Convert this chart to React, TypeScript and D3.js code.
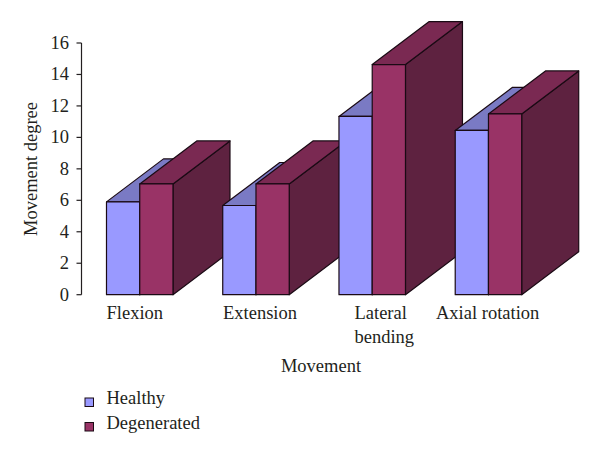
import React from "react";
import * as d3 from "d3";

const categories = ["Flexion", "Extension", "Lateral bending", "Axial rotation"];
const healthy = [5.9, 5.67, 11.33, 10.44];
const degenerated = [7.04, 7.04, 14.63, 11.49];
const yTicks = [0, 2, 4, 6, 8, 10, 12, 14, 16];
const seriesNames = ["Healthy", "Degenerated"];
const fronts = ["#9999FF", "#993366"];
const tops = ["#7A7AC4", "#7A2952"];
const sides = ["#5C5C99", "#5E2240"];

const INK = "#231F20";
const FONT = "'Liberation Serif', serif";
const DX = 57;
const DY = -43;

export default function App() {
  const y = d3.scaleLinear().domain([0, 16]).range([294.7, 43]);
  const x = d3.scaleBand<string>().domain(categories).range([81.5, 546.7]).paddingInner(0.428).paddingOuter(0.215);
  const inner = d3.scaleBand<number>().domain([0, 1]).range([0, x.bandwidth()]);
  const path = d3.line();
  const series = [healthy, degenerated];

  return (
    <svg width={600} height={455} style={{ position: "absolute", left: 0, top: 0, background: "#fff" }} fontFamily={FONT} fill={INK}>
      <line x1={81.5} x2={81.5} y1={y(16)} y2={y(0)} stroke={INK} strokeWidth={1.2} />
      {yTicks.map((t) => (
        <g key={t}>
          <line x1={76.5} x2={81.5} y1={y(t)} y2={y(t)} stroke={INK} strokeWidth={1.2} />
          <text x={69} y={y(t) + 6} textAnchor="end" fontSize={18.5}>{t}</text>
        </g>
      ))}
      {categories.map((c, ci) => (
        <g key={c}>
          {series.map((s, si) => {
            const x0 = (x(c) as number) + (inner(si) as number);
            const x1 = x0 + inner.bandwidth();
            const yt = y(s[ci]);
            const yb = y(0);
            return (
              <g key={si} stroke="#1A0A14" strokeWidth={1.2} strokeLinejoin="round">
                <path d={path([[x1, yb], [x1 + DX, yb + DY], [x1 + DX, yt + DY], [x1, yt]]) + "Z"} fill={sides[si]} />
                <path d={path([[x0, yt], [x0 + DX, yt + DY], [x1 + DX, yt + DY], [x1, yt]]) + "Z"} fill={tops[si]} />
                <rect x={x0} y={yt} width={x1 - x0} height={yb - yt} fill={fronts[si]} />
              </g>
            );
          })}
        </g>
      ))}
      <text x={106.5} y={319} fontSize={18.5}>Flexion</text>
      <text x={223} y={319} fontSize={18.5}>Extension</text>
      <text x={354.5} y={319} fontSize={18.5}>Lateral</text>
      <text x={354.5} y={343} fontSize={18.5}>bending</text>
      <text x={436} y={319} fontSize={18.5}>Axial rotation</text>
      <text x={321} y={372} textAnchor="middle" fontSize={18.5}>Movement</text>
      <text transform="translate(37,169) rotate(-90)" textAnchor="middle" fontSize={18.5}>Movement degree</text>
      {seriesNames.map((n, i) => (
        <g key={n}>
          <rect x={85} y={398 + i * 24.5} width={8.5} height={8.5} fill={fronts[i]} stroke="#1A0A14" strokeWidth={1} />
          <text x={106.5} y={404 + i * 24.5} fontSize={18.5}>{n}</text>
        </g>
      ))}
    </svg>
  );
}
